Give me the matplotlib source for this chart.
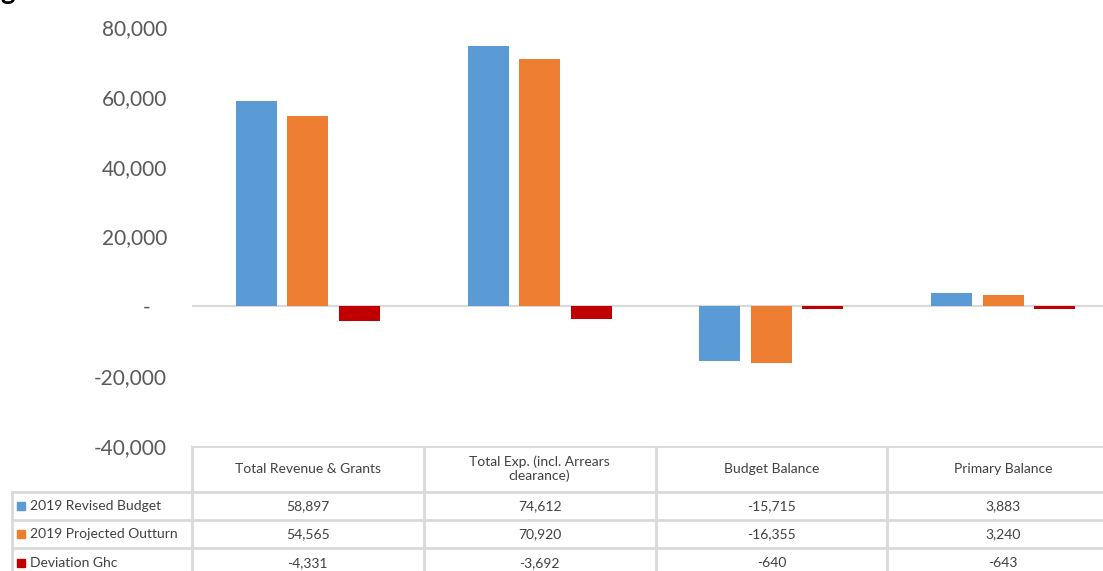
import matplotlib.pyplot as plt
import numpy as np

categories = ['Total Revenue & Grants', 'Total Exp. (incl. Arrears\nclearance)',
              'Budget Balance', 'Primary Balance']
series_names = ['2019 Revised Budget', '2019 Projected Outturn', 'Deviation Ghc']
revised = [58897, 74612, -15715, 3883]
outturn = [54565, 70920, -16355, 3240]
deviation = [-4331, -3692, -640, -643]
colors = ['#5B9BD5', '#ED7D31', '#C00000']

plt.rcParams['font.family'] = ['Lato', 'DejaVu Sans']

W, H = 1103, 571
fig = plt.figure(figsize=(W / 100, H / 100), dpi=100)

# overlay in pixel coords for the data table
tab = fig.add_axes([0, 0, 1, 1])
tab.set_xlim(0, W)
tab.set_ylim(H, 0)
tab.axis('off')

# plot area runs a little past the right edge (cropped like the source)
right = 1119
ax = fig.add_axes([192 / W, (H - 446) / H, (right - 192) / W, (446 - 27) / H])
x = np.arange(len(categories))
cw = (right - 192) / len(categories)
w = 41 / cw
for k, (vals, c) in enumerate(zip([revised, outturn, deviation], colors)):
    ax.bar(x + (k - 1) * 51.5 / cw, vals, w, color=c, zorder=3)
ax.set_xlim(-0.5, len(categories) - 0.5)
ax.set_ylim(-40000, 80000)
ticks = np.arange(-40000, 80001, 20000)
ax.set_yticks(ticks)
ax.set_yticklabels(['-   ' if v == 0 else f'{v:,}' for v in ticks],
                   color='#595959', fontsize=15)
ax.yaxis.set_tick_params(length=0, pad=18)
ax.set_xticks([])
ax.axhline(0, color='#D9D9D9', lw=1.5, zorder=2)
for s in ax.spines.values():
    s.set_visible(False)

# table
gc = '#D9D9D9'
col_x = [192 + cw * j for j in range(len(categories) + 1)]
row_y = [446, 492, 520, 548, 576]
tab.plot([192, W], [446, 446], color=gc, lw=2)
for y in row_y[1:4]:
    tab.plot([12, W], [y, y], color=gc, lw=2)
for cx in col_x[:-1]:
    tab.plot([cx, cx], [446, H], color=gc, lw=2)
tab.plot([12, 12], [492, H], color=gc, lw=2)

for j, cat in enumerate(categories):
    cx = (col_x[j] + col_x[j + 1]) / 2
    tab.text(cx, (row_y[0] + row_y[1]) / 2, cat, ha='center', va='center',
             fontsize=10, color='#404040', linespacing=1.1)
for i, (name, vals, c) in enumerate(zip(series_names, [revised, outturn, deviation], colors)):
    cy = (row_y[i + 1] + row_y[i + 2]) / 2 if i < 2 else 563
    tab.add_patch(plt.Rectangle((17, cy - 4), 8, 8, color=c))
    tab.text(30, cy, name, ha='left', va='center', fontsize=10, color='#404040')
    for j, v in enumerate(vals):
        cx = (col_x[j] + col_x[j + 1]) / 2
        tab.text(cx, cy, f'{v:,}', ha='center', va='center', fontsize=10, color='#404040')

fig.text(0.0, 1.015, 'g', fontsize=20, fontweight='bold', va='center', ha='left')

fig.savefig('out.png', dpi=100)
